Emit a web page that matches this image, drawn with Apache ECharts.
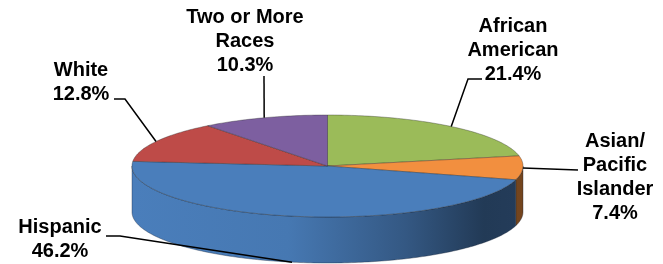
<!DOCTYPE html>
<html>
<head>
<meta charset="utf-8">
<script src="https://cdn.jsdelivr.net/npm/echarts@6/dist/echarts.min.js"></script>
<style>
    html, body { margin: 0; padding: 0; background: #fff; }
    #main { width: 663px; height: 264px; }
</style>
</head>
<body>
<div id="main"></div>
<script>
// data
var categories = ['African American', 'Asian/Pacific Islander', 'Hispanic', 'White', 'Two or More Races'];
var labelNames = ['African\nAmerican', 'Asian/\nPacific\nIslander', 'Hispanic', 'White', 'Two or More\nRaces'];
var shares = [21.4, 7.4, 46.2, 12.8, 10.3];
var colors = ['#9bbb59', '#f28f3f', '#4a7ebb', '#be4b48', '#7d5fa0'];

// layout of the flattened 3D pie
var cx = 327.5, cy = 166, rx = 195.5, ry = 51, depth = 46;

// label layout: text block center, leader elbow points (end point comes from slice)
var labelLayout = [
    { x: 513, y: 50, elbow: [[482, 79], [468, 79]], side: false },
    { x: 615, y: 177, elbow: [[578, 170]], side: false },
    { x: 60, y: 239, elbow: [[106, 236], [120, 236]], side: true },
    { x: 81, y: 82, elbow: [[114, 99], [125, 99]], side: false },
    { x: 245, y: 41, elbow: [[264, 76]], side: false }
];

var total = shares.reduce(function(a, b) { return a + b; }, 0);
var starts = [];
var acc = 0;
shares.forEach(function(v) {
    starts.push(acc / total * 360);
    acc += v;
});

function pt(deg, dy) {
    var r = deg * Math.PI / 180;
    return [cx + rx * Math.sin(r), cy - ry * Math.cos(r) + (dy || 0)];
}

function shade(hex, k) {
    var n = parseInt(hex.slice(1), 16);
    var r = Math.round(((n >> 16) & 255) * k);
    var g = Math.round(((n >> 8) & 255) * k);
    var b = Math.round((n & 255) * k);
    return 'rgb(' + r + ',' + g + ',' + b + ')';
}

function sliceAngles(i) {
    var a0 = starts[i];
    var a1 = a0 + shares[i] / total * 360;
    return [a0, a1];
}

// side walls (only front half visible)
function renderSide(params, api) {
    var i = params.dataIndex;
    var a = sliceAngles(i);
    var s = Math.max(a[0], 90), e = Math.min(a[1], 270);
    if (e <= s) return;
    var pts = [];
    var d;
    for (d = s; d < e; d += 1) pts.push(pt(d, 0));
    pts.push(pt(e, 0));
    for (d = e; d > s; d -= 1) pts.push(pt(d, depth));
    pts.push(pt(s, depth));
    var c = colors[i];
    return {
        type: 'polygon',
        shape: { points: pts },
        style: {
            fill: new echarts.graphic.LinearGradient(cx - rx, 0, cx + rx, 0, [
                { offset: 0, color: shade(c, 1.0) },
                { offset: 0.4, color: shade(c, 0.95) },
                { offset: 0.7, color: shade(c, 0.7) },
                { offset: 0.9, color: shade(c, 0.46) },
                { offset: 1, color: shade(c, 0.48) }
            ], true),
            stroke: 'rgba(20,30,50,0.45)',
            lineWidth: 0.8
        }
    };
}

// top faces
function renderTop(params, api) {
    var i = params.dataIndex;
    var a = sliceAngles(i);
    var pts = [[cx, cy]];
    for (var d = a[0]; d < a[1]; d += 1) pts.push(pt(d, 0));
    pts.push(pt(a[1], 0));
    return {
        type: 'polygon',
        shape: { points: pts },
        style: {
            fill: colors[i],
            stroke: 'rgba(40,40,40,0.45)',
            lineWidth: 0.8
        }
    };
}

// labels with leader lines
function renderLabel(params, api) {
    var i = params.dataIndex;
    var a = sliceAngles(i);
    var lay = labelLayout[i];
    var end = pt((a[0] + a[1]) / 2, lay.side ? depth : 0);
    var line = lay.elbow.slice();
    line.push(end);
    return {
        type: 'group',
        children: [{
            type: 'polyline',
            shape: { points: line },
            style: { stroke: '#000', lineWidth: 1.5, fill: null }
        }, {
            type: 'text',
            style: {
                text: labelNames[i] + '\n' + api.value(0).toFixed(1) + '%',
                x: lay.x,
                y: lay.y,
                align: 'center',
                verticalAlign: 'middle',
                fill: '#000',
                font: 'bold 20px "Liberation Sans", Arial, sans-serif',
                lineHeight: 24
            }
        }]
    };
}

var chart = echarts.init(document.getElementById('main'));
chart.setOption({
    animation: false,
    series: [{
        type: 'custom',
        name: 'side',
        coordinateSystem: 'none',
        z: 1,
        silent: true,
        renderItem: renderSide,
        data: shares
    }, {
        type: 'custom',
        name: 'top',
        coordinateSystem: 'none',
        z: 2,
        renderItem: renderTop,
        data: shares
    }, {
        type: 'custom',
        name: 'labels',
        coordinateSystem: 'none',
        z: 3,
        silent: true,
        renderItem: renderLabel,
        data: shares
    }]
});
</script>
</body>
</html>
